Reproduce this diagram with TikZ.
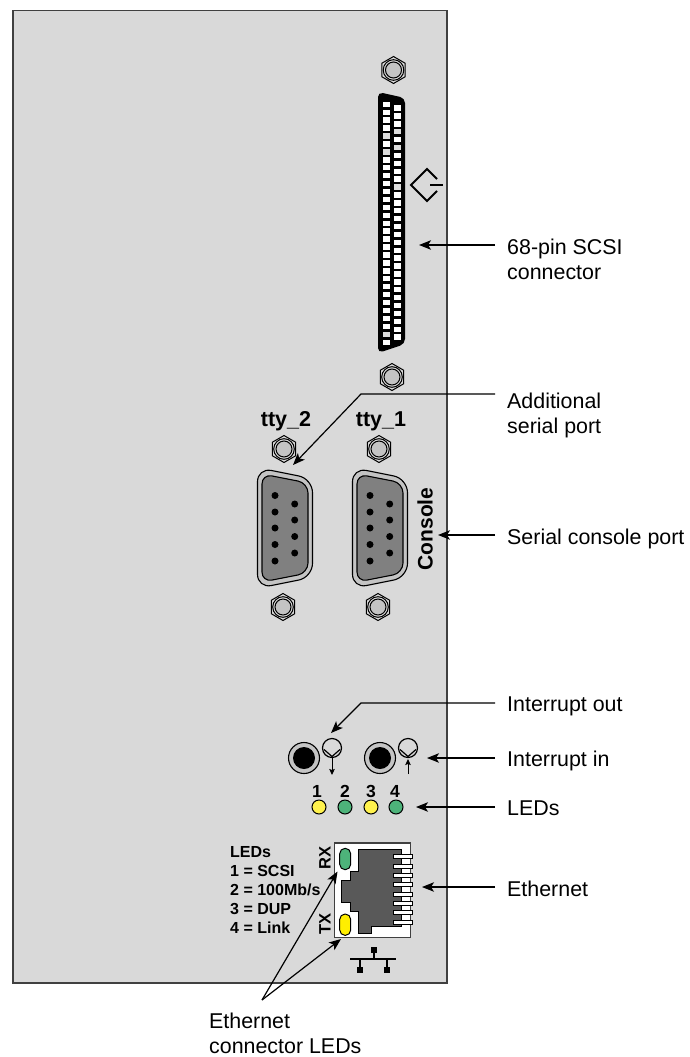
\documentclass[tikz,border=0pt]{standalone}
\usepackage{fontspec}
\setmainfont{Liberation Sans}
\usetikzlibrary{arrows.meta,shapes.geometric}
\definecolor{panel}{HTML}{D9D9D9}
\definecolor{edge}{HTML}{404040}
\definecolor{ledg}{HTML}{4DB37A}
\definecolor{ledy}{HTML}{FFF24D}
\definecolor{ledyy}{HTML}{FFEE00}
\definecolor{rj}{HTML}{595959}
\definecolor{ring}{HTML}{C4C4C4}
\definecolor{dshell}{HTML}{808080}
\tikzset{
  lbl/.style={anchor=base west,inner sep=0pt,font=\fontsize{21.4}{24}\selectfont,align=left},
  blbl/.style={anchor=base,inner sep=0pt,font=\bfseries\fontsize{21.5}{24}\selectfont},
  num/.style={inner sep=0pt,font=\bfseries\fontsize{17.5}{20}\selectfont},
  leg/.style={anchor=west,inner sep=0pt,font=\bfseries\fontsize{16}{18}\selectfont},
  side/.style={inner sep=0pt,rotate=90,font=\bfseries\fontsize{16.5}{18}\selectfont},
  arr/.style={-{Stealth[length=12pt,width=9.5pt,inset=3pt]},line width=1.2pt,black},
  tiny/.style={-{Stealth[length=6pt,width=5.5pt,inset=1pt]},line width=1pt,black},
  pad/.style={fill=white,draw=none},
  gpad/.style={fill=ring!60!white,draw=none},
  nut/.pic={
    \draw[line width=1pt,fill=panel] (0,-13.5)--(11.7,-6.75)--(11.7,6.75)--(0,13.5)--(-11.7,6.75)--(-11.7,-6.75)--cycle;
    \draw[line width=1pt,fill=panel] (0,0) circle (10.3);
    \draw[line width=1pt,fill=ring] (0,0) circle (8);
  },
  dsub/.pic={
    \draw[line width=1.1pt,fill=ring,rounded corners=14pt] (-27.5,-60.3)--(27.5,-49.3)--(27.5,49.3)--(-27.5,60.3)--cycle;
    \draw[line width=1.1pt,fill=dshell,rounded corners=10pt] (-23,-54)--(23,-45)--(23,45)--(-23,54)--cycle;
    \foreach \y in {-32.5,-16,0,16.5,33} \fill (-10,\y) circle (3.5);
    \foreach \y in {-24,-8,8.5,25} \fill (9.7,\y) circle (3.5);
  },
  jack/.pic={
    \draw[line width=1.1pt,fill=ring] (0,0) circle (15.5);
    \fill (0,0) circle (11);
  },
  ptsym/.pic={
    \draw[line width=1.2pt] (0,0) circle (9.5);
    \draw[line width=1.2pt] (-8,1.5)--(0,8.5)--(8,1.5);
  }
}
\begin{document}
\begin{tikzpicture}[x=1pt,y=-1pt]
\useasboundingbox (0,0) rectangle (689,1057);
% panel
\node[draw=edge,fill=panel,line width=1.5pt,minimum width=434pt,minimum height=972pt,inner sep=0pt,anchor=north west] (panel) at (12,10) {};
% nuts
\pic at (393.5,70) {nut};
\pic at (392,377) {nut};
\pic at (284,449) {nut};
\pic at (379,449) {nut};
\pic at (283,607) {nut};
\pic at (378,607) {nut};
% SCSI connector
\fill[black,rounded corners=5pt] (378,92)--(405,98)--(405,344)--(378,353)--cycle;
\foreach \i in {0,...,30} {
  \pgfmathsetmacro\yy{104.3+\i*7.93}
  \fill[pad] (383,\yy-2.7) rectangle (390,\yy+2.7);
}
\foreach \i in {0,...,29} {
  \pgfmathsetmacro\yy{108+\i*7.9}
  \fill[pad] (394,\yy-2.7) rectangle (401,\yy+2.7);
}
\foreach \i in {4,6,29} {
  \pgfmathsetmacro\yy{104.3+\i*7.93}
  \fill[gpad] (383,\yy-2.7) rectangle (390,\yy+2.7);
}
\foreach \i in {3,5,10} {
  \pgfmathsetmacro\yy{108+\i*7.9}
  \fill[gpad] (394,\yy-2.7) rectangle (401,\yy+2.7);
}
% differential symbol
\draw[line width=1.8pt] (437,179)--(427,169)--(411,185)--(427,201)--(437,191);
\draw[line width=2.2pt] (430,185)--(443,185);
% serial ports
\pic at (285,528) {dsub};
\pic at (380,528) {dsub};
\node[blbl] (tty2) at (286,426) {tty\_2};
\node[blbl] (tty1) at (381,426) {tty\_1};
\node[side,font=\bfseries\fontsize{21}{24}\selectfont] (console) at (425,529) {Console};
% interrupt
\pic at (304,758) {jack};
\pic at (380,758) {jack};
\pic at (332,748) {ptsym};
\pic at (408,748) {ptsym};
\coordinate (dnA) at (332,757.5);
\coordinate (dnB) at (332,775);
\coordinate (upA) at (408,774);
\coordinate (upB) at (408,759);
\draw[tiny] (dnA)--(dnB);
\draw[tiny] (upA)--(upB);
% LEDs
\node[circle,draw,line width=1pt,fill=ledy,minimum size=14pt,inner sep=0pt] (l1) at (319,807) {};
\node[circle,draw,line width=1pt,fill=ledg,minimum size=14pt,inner sep=0pt] (l2) at (345,807) {};
\node[circle,draw,line width=1pt,fill=ledy,minimum size=14pt,inner sep=0pt] (l3) at (371,807) {};
\node[circle,draw,line width=1pt,fill=ledg,minimum size=14pt,inner sep=0pt] (l4) at (396,807) {};
\node[num] (n1) at (317,791) {1};
\node[num] (n2) at (345,791) {2};
\node[num] (n3) at (371,791) {3};
\node[num] (n4) at (395,791) {4};
% legend
\node[leg] (g0) at (230,852) {LEDs};
\node[leg] (g1) at (230,871) {1 = SCSI};
\node[leg] (g2) at (230,890) {2 = 100Mb/s};
\node[leg] (g3) at (230,909) {3 = DUP};
\node[leg] (g4) at (230,928) {4 = Link};
\node[side] (rx) at (325,858) {RX};
\node[side] (tx) at (325,924) {TX};
% ethernet jack
\draw[line width=1.1pt,draw=edge,fill=white] (334.5,843) rectangle (410.7,937.7);
\draw[line width=.8pt,fill=rj] (358,849.5)--(401.3,849.5)--(401.3,926.5)--(371.7,926.5)--(371.7,933.5)--(358,933.5)--(358,911)--(350,911)--(350,902)--(341,902)--(341,880)--(350.5,880)--(350.5,871)--(358,871)--cycle;
\foreach \y in {856.5,866,875.3,884.7,894,903.3,912.7,922}
  \draw[line width=.8pt,fill=white] (393.5,\y-1.9) rectangle (412.5,\y+1.9);
\draw[line width=1pt,fill=ledg,rounded corners=5.4pt] (339.7,848.3) rectangle (350.7,869.7);
\draw[line width=1pt,fill=ledyy,rounded corners=5.4pt] (339.7,914) rectangle (350.7,935.4);
% network symbol
\draw[line width=1.8pt] (350,959)--(396,959);
\draw[line width=1.2pt] (374,950)--(374,959);
\draw[line width=1.2pt] (360,959)--(360,970);
\draw[line width=1.2pt] (387,959)--(387,970);
\fill (371,947) rectangle (377,953);
\fill (357,967) rectangle (363,973);
\fill (384,967) rectangle (390,973);
% labels
\node[lbl] (t1) at (507,254.5) {68-pin SCSI};
\node[lbl] (t1b) at (507,279.5) {connector};
\node[lbl] (t2) at (507,408.5) {Additional};
\node[lbl] (t2b) at (507,433.5) {serial port};
\node[lbl] (t3) at (507,544.5) {Serial console port};
\node[lbl] (t4) at (507,711) {Interrupt out};
\node[lbl] (t5) at (507,766) {Interrupt in};
\node[lbl] (t6) at (507,815) {LEDs};
\node[lbl] (t7) at (507,896) {Ethernet};
\node[lbl] (t8) at (209,1028.5) {Ethernet};
\node[lbl] (t8b) at (209,1053) {connector LEDs};
% connector ends
\coordinate (s1) at (495,245);  \coordinate (e1) at (419,245);
\coordinate (s2) at (495,394);  \coordinate (m2) at (361,394); \coordinate (e2) at (293,465);
\coordinate (s3) at (495,535);  \coordinate (e3) at (438,535);
\coordinate (s4) at (495,703);  \coordinate (m4) at (361,703); \coordinate (e4) at (331,733);
\coordinate (s5) at (495,758);  \coordinate (e5) at (427,758);
\coordinate (s6) at (495,807);  \coordinate (e6) at (416,807);
\coordinate (s7) at (495,887);  \coordinate (e7) at (422,887);
\coordinate (s8) at (262,1000);  \coordinate (e8a) at (337.5,871.5); \coordinate (e8b) at (341,939);
\draw[arr] (s1)--(e1);
\draw[arr] (s2)--(m2)--(e2);
\draw[arr] (s3)--(e3);
\draw[arr] (s4)--(m4)--(e4);
\draw[arr] (s5)--(e5);
\draw[arr] (s6)--(e6);
\draw[arr] (s7)--(e7);
\draw[arr] (s8)--(e8a);
\draw[arr] (s8)--(e8b);
\end{tikzpicture}
\end{document}
